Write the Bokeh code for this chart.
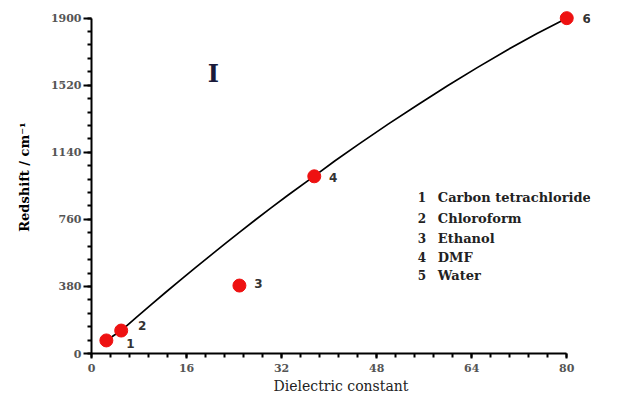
from bokeh.plotting import figure
from bokeh.models import SingleIntervalTicker, Range1d, Label, ColumnDataSource
from bokeh.core.properties import value
from bokeh.embed import file_html
from bokeh.resources import INLINE

# ---- data ----
solvent_ids = ["1", "2", "3", "4", "6"]
dielectric = [2.5, 5.0, 24.9, 37.5, 80.0]
redshift = [74, 130, 385, 1004, 1900]

curve_x = [2.5, 5, 7.5, 10, 12.5, 15, 17.5, 20, 22.5, 25, 27.5, 30, 33, 37.5,
           41, 45, 50, 55, 60, 65, 70, 75, 80]
curve_y = [74, 130, 203, 276, 347, 417, 487, 555, 623, 689, 755, 819, 895, 1005,
           1092, 1186, 1301, 1411, 1518, 1621, 1720, 1813, 1900]

legend_nums = ["1", "2", "3", "4", "5"]
legend_names = ["Carbon tetrachloride", "Chloroform", "Ethanol", "DMF", "Water"]

x_tick_step = 16
y_tick_step = 380

SERIF = "DejaVu Serif"

p = figure(width=619, height=397, output_backend="svg", toolbar_location=None,
           x_range=Range1d(0, 84), y_range=Range1d(0, 2000),
           min_border_left=91, min_border_right=29, min_border_top=0, min_border_bottom=44)
p.outline_line_color = None
p.grid.visible = False
p.background_fill_color = "white"

for ax in (p.xaxis[0], p.yaxis[0]):
    ax.axis_line_width = 2
    ax.axis_line_color = "black"
    ax.major_tick_line_width = 2
    ax.minor_tick_line_width = 2
    ax.major_tick_in = 0
    ax.minor_tick_in = 0
    ax.minor_tick_out = 4
    ax.major_tick_line_color = "black"
    ax.minor_tick_line_color = "black"
    ax.major_label_text_font = SERIF
    ax.major_label_text_font_style = "bold"
    ax.major_label_text_font_size = "11px"
    ax.major_label_text_color = "#555555"
    ax.axis_label_text_font = SERIF

p.xaxis.major_tick_out = 5
p.yaxis.major_tick_out = 8

p.xaxis.ticker = SingleIntervalTicker(interval=x_tick_step, num_minor_ticks=5)
p.yaxis.ticker = SingleIntervalTicker(interval=y_tick_step, num_minor_ticks=5)
p.xaxis.bounds = (0, 80)
p.yaxis.bounds = (0, 1900)
p.xaxis.major_label_standoff = 5
p.yaxis.major_label_standoff = 2

p.xaxis.axis_label = "Dielectric constant"
p.xaxis.axis_label_text_font_style = "normal"
p.xaxis.axis_label_text_font_size = "14px"
p.xaxis.axis_label_text_color = "#222222"
p.xaxis.axis_label_standoff = 3

p.yaxis.axis_label = "Redshift / cm\u207b\u00b9"
p.yaxis.axis_label_text_font_style = "bold"
p.yaxis.axis_label_text_font_size = "13px"
p.yaxis.axis_label_text_color = "black"
p.yaxis.axis_label_standoff = 16

# fitted curve
p.line(curve_x, curve_y, line_color="black", line_width=1.7, line_join="round")

# points
src = ColumnDataSource(dict(x=dielectric, y=redshift, lab=solvent_ids,
                            xo=[24, 21, 19, 19, 20], yo=[3, -5, -2, 1, 0]))
p.scatter("x", "y", source=src, size=13, fill_color="#ee1111", line_color="#ee1111")
p.text("x", "y", text="lab", source=src, x_offset="xo", y_offset="yo",
       text_font=value("DejaVu Sans"), text_font_style="bold", text_font_size="12px",
       text_color="#333333", text_align="center", text_baseline="middle")

# legend-like text block
leg_y = [885, 766, 652, 545, 442]
p.text(x=[54.9] * 5, y=leg_y, text=legend_nums, text_font=value(SERIF),
       text_font_style="bold", text_font_size="12px", text_color="#222222",
       text_baseline="middle", text_align="left")
p.text(x=[58.3] * 5, y=leg_y, text=legend_names, text_font=value(SERIF),
       text_font_style="bold", text_font_size="13px", text_color="#222222",
       text_baseline="middle", text_align="left")

p.add_layout(Label(x=20.5, y=1588, text="I", text_font=SERIF, text_font_style="bold",
                   text_font_size="24px", text_color="#1a1a3a",
                   text_align="center", text_baseline="middle"))

open("out.html", "w").write(file_html(p, INLINE))
